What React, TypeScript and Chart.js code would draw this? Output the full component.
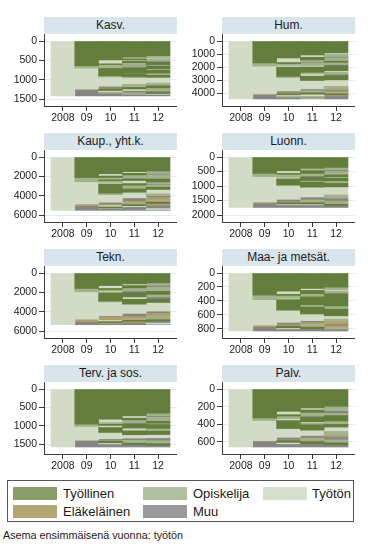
import React, { useEffect, useRef } from "react";
import { Chart, registerables } from "chart.js";

Chart.register(...registerables);

type Run = [string, number];

const years = [2008, 2009, 2010, 2011, 2012];
const yearLabels = ["2008", "09", "10", "11", "12"];
const states = ["T", "O", "U", "P", "M"];
const stateNames = ["Työllinen", "Opiskelija", "Työtön", "Eläkeläinen", "Muu"];
const plotColors = ["#637d3c", "#a2b28b", "#d2dbc6", "#b59f66", "#858585"];
const legendColors = ["#899d69", "#b1c09f", "#d7e0cd", "#b4a575", "#9a9a9a"];

// Kasv.
const kasvTicks = [0, 500, 1000, 1500];
const kasvTotal = 1420;
const kasv09: Run[] = [["T", 640], ["O", 60], ["U", 540], ["P", 15], ["M", 165]];
const kasv10: Run[] = [["T", 490], ["U", 100], ["T", 20], ["O", 80], ["U", 20], ["T", 190], ["O", 30], ["U", 240], ["M", 60], ["P", 10], ["T", 40], ["U", 40], ["O", 30], ["M", 70]];
const kasv11: Run[] = [["T", 420], ["U", 40], ["T", 30], ["U", 30], ["T", 40], ["O", 60], ["M", 20], ["O", 50], ["T", 130], ["U", 20], ["T", 80], ["O", 30], ["U", 170], ["O", 60], ["P", 20], ["T", 40], ["U", 40], ["M", 60], ["O", 40], ["M", 40]];
const kasv12: Run[] = [["T", 380], ["O", 50], ["U", 30], ["O", 60], ["M", 30], ["T", 60], ["O", 40], ["T", 70], ["U", 30], ["T", 80], ["O", 60], ["T", 50], ["U", 150], ["O", 70], ["T", 50], ["P", 20], ["O", 60], ["M", 40], ["T", 30], ["U", 20], ["M", 40]];

// Hum.
const humTicks = [0, 1000, 2000, 3000, 4000];
const humTotal = 4450;
const hum09: Run[] = [["T", 1680], ["O", 250], ["U", 2120], ["P", 60], ["M", 340]];
const hum10: Run[] = [["T", 1300], ["U", 350], ["T", 80], ["O", 150], ["U", 130], ["T", 700], ["O", 100], ["U", 1020], ["M", 160], ["P", 60], ["T", 80], ["U", 120], ["O", 60], ["M", 140]];
const hum11: Run[] = [["T", 1070], ["U", 180], ["T", 200], ["O", 150], ["M", 100], ["O", 180], ["U", 120], ["T", 400], ["O", 120], ["U", 180], ["T", 330], ["U", 640], ["M", 150], ["O", 80], ["P", 80], ["T", 100], ["U", 150], ["M", 120], ["O", 100]];
const hum12: Run[] = [["T", 900], ["U", 100], ["O", 200], ["M", 100], ["O", 250], ["T", 80], ["O", 170], ["M", 100], ["T", 380], ["U", 120], ["O", 150], ["M", 100], ["T", 330], ["U", 500], ["O", 150], ["P", 120], ["M", 150], ["O", 150], ["T", 80], ["P", 80], ["M", 240]];

// Kaup., yht.k.
const kaupTicks = [0, 2000, 4000, 6000];
const kaupTotal = 5520;
const kaup09: Run[] = [["T", 2130], ["O", 440], ["U", 2280], ["P", 180], ["M", 490]];
const kaup10: Run[] = [["T", 1730], ["U", 240], ["T", 150], ["O", 250], ["T", 80], ["O", 190], ["U", 160], ["T", 930], ["O", 170], ["U", 780], ["M", 240], ["P", 130], ["U", 120], ["T", 90], ["O", 80], ["M", 180]];
const kaup11: Run[] = [["T", 1520], ["U", 170], ["T", 170], ["O", 300], ["M", 150], ["T", 120], ["U", 320], ["T", 160], ["O", 400], ["T", 300], ["O", 100], ["U", 520], ["M", 340], ["P", 200], ["O", 150], ["T", 120], ["U", 110], ["M", 370]];
const kaup12: Run[] = [["T", 1450], ["O", 250], ["M", 150], ["O", 300], ["U", 100], ["T", 330], ["O", 220], ["M", 120], ["O", 200], ["T", 240], ["U", 450], ["O", 200], ["M", 200], ["P", 250], ["O", 200], ["T", 150], ["P", 180], ["M", 350], ["U", 100], ["M", 80]];

// Luonn.
const luonnTicks = [0, 500, 1000, 1500, 2000];
const luonnTotal = 1740;
const luonn09: Run[] = [["T", 565], ["O", 115], ["U", 870], ["P", 40], ["M", 150]];
const luonn10: Run[] = [["T", 475], ["U", 90], ["T", 30], ["O", 105], ["U", 55], ["T", 205], ["O", 35], ["U", 465], ["M", 90], ["P", 30], ["T", 40], ["U", 30], ["M", 90]];
const luonn11: Run[] = [["T", 395], ["U", 40], ["O", 40], ["T", 90], ["O", 80], ["M", 55], ["T", 110], ["O", 60], ["T", 170], ["U", 340], ["M", 100], ["O", 60], ["P", 40], ["T", 40], ["U", 30], ["M", 90]];
const luonn12: Run[] = [["T", 360], ["O", 80], ["M", 60], ["O", 120], ["T", 60], ["U", 40], ["T", 100], ["O", 90], ["T", 120], ["U", 280], ["O", 110], ["M", 100], ["P", 50], ["O", 60], ["T", 40], ["M", 70]];

// Tekn.
const teknTicks = [0, 2000, 4000, 6000];
const teknTotal = 5350;
const tekn09: Run[] = [["T", 1600], ["O", 345], ["U", 2825], ["P", 240], ["M", 340]];
const tekn10: Run[] = [["T", 1300], ["U", 300], ["T", 120], ["O", 160], ["U", 170], ["T", 850], ["O", 100], ["U", 1430], ["M", 180], ["P", 300], ["U", 120], ["T", 100], ["P", 100], ["M", 120]];
const tekn11: Run[] = [["T", 1125], ["U", 170], ["T", 240], ["O", 300], ["M", 200], ["T", 440], ["U", 240], ["T", 510], ["U", 950], ["M", 340], ["P", 240], ["O", 150], ["T", 100], ["P", 150], ["M", 195]];
const tekn12: Run[] = [["T", 1020], ["O", 250], ["M", 200], ["O", 300], ["U", 100], ["T", 340], ["O", 250], ["M", 250], ["T", 340], ["U", 890], ["M", 250], ["P", 300], ["O", 200], ["P", 150], ["T", 120], ["M", 230], ["U", 100], ["M", 60]];

// Maa- ja metsät.
const maaTicks = [0, 200, 400, 600, 800];
const maaTotal = 833;
const maa09: Run[] = [["T", 317], ["O", 66], ["U", 364], ["P", 24], ["M", 62]];
const maa10: Run[] = [["T", 260], ["U", 47], ["T", 15], ["O", 40], ["U", 20], ["T", 152], ["U", 175], ["M", 33], ["P", 20], ["T", 25], ["U", 15], ["M", 31]];
const maa11: Run[] = [["T", 222], ["U", 28], ["T", 47], ["O", 47], ["T", 117], ["U", 24], ["T", 104], ["U", 95], ["M", 30], ["P", 20], ["O", 20], ["P", 25], ["T", 20], ["M", 34]];
const maa12: Run[] = [["T", 203], ["O", 40], ["U", 20], ["O", 35], ["T", 175], ["O", 47], ["T", 95], ["U", 47], ["O", 30], ["P", 40], ["M", 30], ["P", 25], ["O", 20], ["M", 26]];

// Terv. ja sos.
const tervTicks = [0, 500, 1000, 1500];
const tervTotal = 1580;
const terv09: Run[] = [["T", 958], ["O", 63], ["U", 370], ["P", 15], ["M", 174]];
const terv10: Run[] = [["T", 823], ["U", 90], ["O", 50], ["T", 30], ["U", 56], ["T", 135], ["U", 172], ["M", 54], ["P", 15], ["T", 40], ["U", 30], ["M", 85]];
const terv11: Run[] = [["T", 732], ["U", 63], ["T", 45], ["O", 80], ["M", 38], ["T", 108], ["U", 72], ["T", 109], ["U", 90], ["M", 60], ["O", 60], ["P", 20], ["T", 40], ["M", 63]];
const terv12: Run[] = [["T", 660], ["O", 70], ["M", 40], ["O", 110], ["T", 50], ["O", 40], ["T", 100], ["O", 80], ["T", 90], ["U", 90], ["M", 80], ["O", 60], ["P", 20], ["T", 40], ["M", 50]];

// Palv.
const palvTicks = [0, 200, 400, 600];
const palvTotal = 657;
const palv09: Run[] = [["T", 328], ["O", 30], ["U", 226], ["P", 8], ["M", 65]];
const palv10: Run[] = [["T", 253], ["U", 38], ["T", 15], ["O", 30], ["U", 22], ["T", 90], ["U", 99], ["M", 30], ["P", 8], ["T", 20], ["U", 15], ["M", 37]];
const palv11: Run[] = [["T", 215], ["U", 23], ["T", 26], ["O", 40], ["M", 17], ["T", 50], ["U", 15], ["O", 20], ["T", 60], ["U", 60], ["M", 30], ["O", 25], ["P", 15], ["T", 25], ["M", 36]];
const palv12: Run[] = [["T", 196], ["O", 50], ["M", 30], ["O", 25], ["T", 60], ["O", 40], ["T", 30], ["U", 50], ["O", 40], ["P", 20], ["M", 35], ["O", 25], ["P", 10], ["T", 20], ["M", 26]];

const panels = [
  { title: "Kasv.", total: kasvTotal, ticks: kasvTicks, cols: [kasv09, kasv10, kasv11, kasv12] },
  { title: "Hum.", total: humTotal, ticks: humTicks, cols: [hum09, hum10, hum11, hum12] },
  { title: "Kaup., yht.k.", total: kaupTotal, ticks: kaupTicks, cols: [kaup09, kaup10, kaup11, kaup12] },
  { title: "Luonn.", total: luonnTotal, ticks: luonnTicks, cols: [luonn09, luonn10, luonn11, luonn12] },
  { title: "Tekn.", total: teknTotal, ticks: teknTicks, cols: [tekn09, tekn10, tekn11, tekn12] },
  { title: "Maa- ja metsät.", total: maaTotal, ticks: maaTicks, cols: [maa09, maa10, maa11, maa12] },
  { title: "Terv. ja sos.", total: tervTotal, ticks: tervTicks, cols: [terv09, terv10, terv11, terv12] },
  { title: "Palv.", total: palvTotal, ticks: palvTicks, cols: [palv09, palv10, palv11, palv12] },
];

// layout
const FONT = "'Liberation Sans', Arial, sans-serif";
const PLOT_H = 72;
const PLOT_W = 133;
const MARGIN = 7;
const AXIS_W = 44;
const XAXIS_H = 20;
const STRIP_H = 17;
const colAxisX = [44, 222];
const rowPlotTop = [34, 150, 266, 382];

function Panel(props: { title: string; total: number; ticks: number[]; cols: Run[][]; axisX: number; top: number }) {
  const { title, total, ticks, cols, axisX, top } = props;
  const ref = useRef<HTMLCanvasElement>(null);
  useEffect(() => {
    const seq: Run[][] = [[["U", total]], ...cols];
    const datasets = states.map((s, si) => {
      const data: any[] = [];
      seq.forEach((col, ci) => {
        let acc = 0;
        col.forEach(([st, n]) => {
          if (st === s) data.push({ x: years[ci], y: [acc, acc + n] });
          acc += n;
        });
      });
      return {
        label: stateNames[si],
        data,
        backgroundColor: plotColors[si],
        borderWidth: 0,
        grouped: false,
        barPercentage: 1,
        categoryPercentage: 1,
      };
    });
    const maxV = Math.max(total, ticks[ticks.length - 1]);
    const upp = maxV / (PLOT_H - 2 * MARGIN);
    const xupp = 5 / (PLOT_W - 2 * MARGIN);
    const tickFont = { family: FONT, size: 10.5 };
    const chart = new Chart(ref.current as HTMLCanvasElement, {
      type: "bar",
      data: { datasets } as any,
      options: {
        animation: false,
        responsive: false,
        maintainAspectRatio: false,
        layout: { padding: 0 },
        plugins: { legend: { display: false }, tooltip: { enabled: false }, title: { display: false } },
        scales: {
          x: {
            type: "linear",
            offset: false,
            min: 2007.5 - MARGIN * xupp,
            max: 2012.5 + MARGIN * xupp,
            afterBuildTicks: (s: any) => {
              s.ticks = years.map((v) => ({ value: v }));
            },
            afterFit: (s: any) => {
              s.height = XAXIS_H;
              s.paddingLeft = 0;
              s.paddingRight = 0;
            },
            ticks: {
              autoSkip: false,
              maxRotation: 0,
              padding: 1,
              color: "#1a1a1a",
              font: tickFont,
              callback: (v: any) => yearLabels[years.indexOf(Number(v))],
            },
            grid: { offset: false, drawOnChartArea: false, tickLength: 5, tickColor: "#3a3a3a", lineWidth: 1 },
            border: { display: true, color: "#3a3a3a", width: 1 },
          },
          y: {
            type: "linear",
            reverse: true,
            min: -MARGIN * upp,
            max: maxV + MARGIN * upp,
            afterBuildTicks: (s: any) => {
              s.ticks = ticks.map((v) => ({ value: v }));
            },
            afterFit: (s: any) => {
              s.width = AXIS_W;
              s.paddingTop = 0;
              s.paddingBottom = 0;
            },
            ticks: {
              padding: 2,
              color: "#1a1a1a",
              font: tickFont,
              callback: (v: any) => String(v),
            },
            grid: { color: "#e3ebef", tickColor: "#3a3a3a", tickLength: 5, lineWidth: 1 },
            border: { display: true, color: "#3a3a3a", width: 1 },
          },
        },
      } as any,
    });
    return () => chart.destroy();
  }, []);
  return (
    <>
      <div
        style={{
          position: "absolute",
          left: axisX,
          top: top - STRIP_H,
          width: PLOT_W,
          height: STRIP_H,
          background: "#d9e5ec",
          fontFamily: FONT,
          fontSize: 12,
          lineHeight: `${STRIP_H}px`,
          textAlign: "center",
          color: "#1a1a1a",
        }}
      >
        {title}
      </div>
      <canvas
        ref={ref}
        width={AXIS_W + PLOT_W}
        height={PLOT_H + XAXIS_H}
        style={{ position: "absolute", left: axisX - AXIS_W, top, width: AXIS_W + PLOT_W, height: PLOT_H + XAXIS_H }}
      />
    </>
  );
}

const legendSwatchX = [13, 143, 263];
const legendLabelX = [63, 193, 312];
const legendRowY = [487, 505];

export default function App() {
  return (
    <div style={{ position: "absolute", left: 0, top: 0, width: 373, height: 557, background: "#fff", overflow: "hidden" }}>
      {panels.map((p, i) => (
        <Panel key={p.title} {...p} axisX={colAxisX[i % 2]} top={rowPlotTop[Math.floor(i / 2)]} />
      ))}
      <div
        style={{
          position: "absolute",
          left: 7,
          top: 480,
          width: 347,
          height: 42,
          border: "1px solid #555",
          boxSizing: "border-box",
        }}
      />
      {stateNames.map((name, i) => {
        const r = Math.floor(i / 3);
        const c = i % 3;
        return (
          <React.Fragment key={name}>
            <div
              style={{
                position: "absolute",
                left: legendSwatchX[c],
                top: legendRowY[r],
                width: 44,
                height: 13,
                background: legendColors[i],
              }}
            />
            <div
              style={{
                position: "absolute",
                left: legendLabelX[c],
                top: legendRowY[r] - 2,
                height: 17,
                lineHeight: "17px",
                fontFamily: FONT,
                fontSize: 13,
                color: "#1a1a1a",
                whiteSpace: "nowrap",
              }}
            >
              {name}
            </div>
          </React.Fragment>
        );
      })}
      <div
        style={{
          position: "absolute",
          left: 3,
          top: 528,
          fontFamily: FONT,
          fontSize: 10.8,
          lineHeight: "14px",
          color: "#1a1a1a",
          whiteSpace: "nowrap",
        }}
      >
        Asema ensimmäisenä vuonna: työtön
      </div>
    </div>
  );
}
